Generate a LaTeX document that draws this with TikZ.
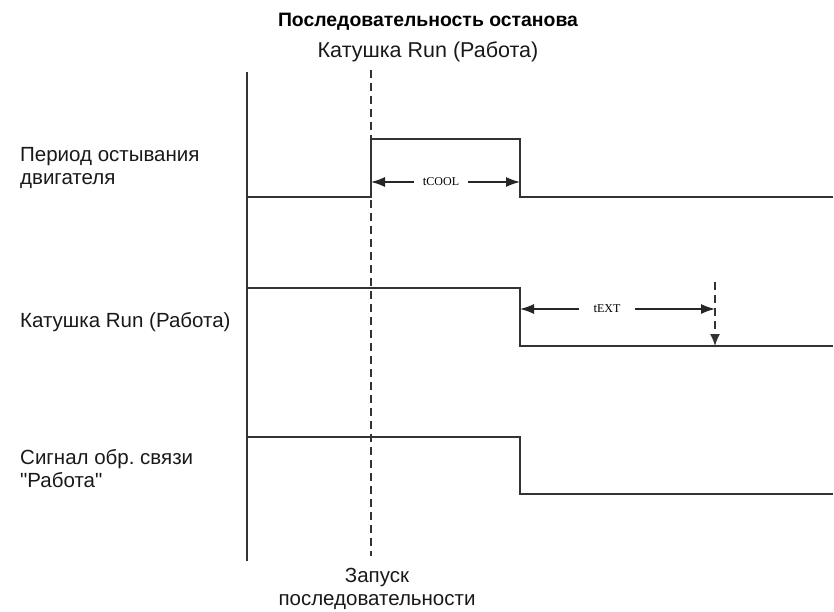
\documentclass[tikz,border=0pt]{standalone}
\usepackage{fontspec}
\setmainfont{Liberation Sans}[Ligatures=TeXOff]
\newfontfamily\timefont{Liberation Serif}
\frenchspacing
\usetikzlibrary{positioning, arrows.meta}
\tikzset{
    wave/.style={line width=1.6pt, black!80},
    marker/.style={line width=1.4pt, black!80, dash pattern=on 8pt off 5pt},
    timearrow/.style={-{Latex[length=14pt,width=10pt]}, line width=1.4pt, black!85},
    caption/.style={inner sep=0pt, text=black!90, font=\fontsize{20.5}{23}\selectfont},
    heading/.style={inner sep=0pt, font=\fontsize{19.4}{22}\selectfont\bfseries},
    timelabel/.style={inner xsep=9pt, inner ysep=0pt, font=\timefont\fontsize{13}{12}\selectfont}
}

\begin{document}
\begin{tikzpicture}[x=1pt, y=-1pt]
        \useasboundingbox (0,0) rectangle (834,612);
        % headings
        \node[heading, anchor=base] (title) at (428,27) {Последовательность останова};
        \node[caption, anchor=base, font=\fontsize{21.5}{23}\selectfont] (runtop) at (428,58) {Катушка Run (Работа)};
        % time axis and start marker
        \coordinate (axtop) at (247,72);
        \coordinate (axbot) at (247,561);
        \coordinate (mktop) at (371,70);
        \coordinate (mkbot) at (371,556);
        \draw[wave] (axtop) -- (axbot);
        \draw[marker] (mktop) -- (mkbot);
        \node[caption, align=center, anchor=base] (start) at (377,605) {Запуск\\последовательности};
        % row labels
        \node[caption, align=left, anchor=base west] (cool) at (20,185) {Период остывания\\двигателя};
        \node[caption, anchor=base west] (run) at (20,327) {Катушка Run (Работа)};
        \node[caption, align=left, anchor=base west] (fb) at (20,487) {Сигнал обр. связи\\"Работа"};
        % waveforms
        \draw[wave] (247,197) -- (371,197) -- (371,139) -- (520,139) -- (520,197) -- (833,197);
        \draw[wave] (247,288) -- (520,288) -- (520,346) -- (833,346);
        \draw[wave] (247,437) -- (520,437) -- (520,494) -- (833,494);
        % tcool
        \coordinate (coolA) at (371,182);
        \coordinate (coolB) at (520,182);
        \node[timelabel] (tcool) at (441,182) {t{\fontsize{12}{11}\selectfont COOL}};
        \draw[timearrow] (tcool) -- (coolA);
        \draw[timearrow] (tcool) -- (coolB);
        % text
        \coordinate (extA) at (520,309);
        \coordinate (extB) at (715,309);
        \coordinate (exttop) at (715,282);
        \coordinate (extbot) at (715,346);
        \node[timelabel, inner xsep=14pt] (text) at (607,309) {t{\fontsize{12}{11}\selectfont EXT}};
        \draw[timearrow] (text) -- (extA);
        \draw[timearrow] (text) -- (extB);
        \draw[marker, -{Latex[length=12pt,width=10pt]}] (exttop) -- (extbot);
    \end{tikzpicture}
\end{document}
